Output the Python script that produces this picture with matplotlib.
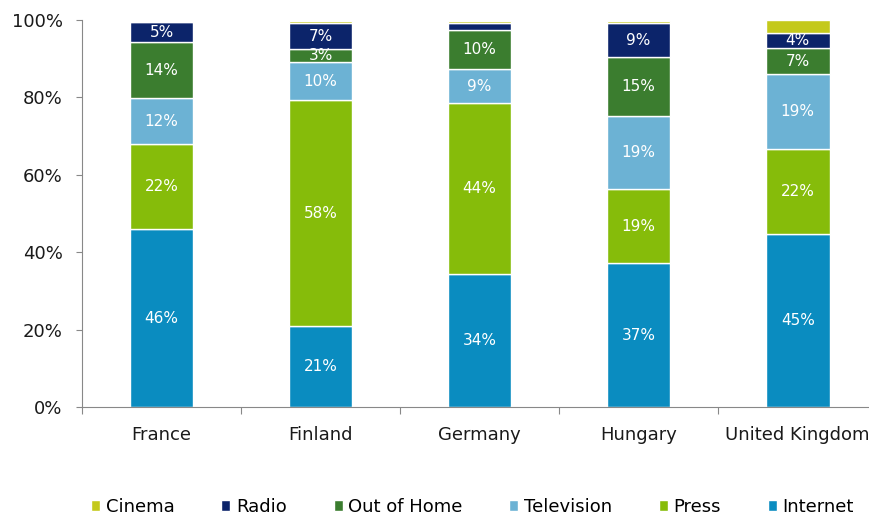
import matplotlib.pyplot as plt
import numpy as np

plt.rcParams['font.family'] = ['DejaVu Sans']

countries = ['France', 'Finland', 'Germany', 'Hungary', 'United Kingdom']

# shares in %, bottom to top
internet = [45.9, 20.9, 34.4, 37.1, 44.6]
press = [22.0, 58.4, 44.1, 19.2, 22.1]
television = [11.9, 9.8, 8.8, 18.9, 19.4]
out_of_home = [14.4, 3.3, 10.1, 15.3, 6.6]
radio = [5.2, 6.8, 1.7, 8.6, 4.0]
cinema = [0.0, 0.6, 0.6, 0.6, 3.2]

series_names = ['Internet', 'Press', 'Television', 'Out of Home', 'Radio', 'Cinema']
series_vals = [internet, press, television, out_of_home, radio, cinema]
colors = ['#0a8cc0', '#86bc0a', '#6cb2d4', '#3b7d2f', '#0c246a', '#c4c91c']

fig = plt.figure(figsize=(8.7, 5.21), dpi=100)
ax = fig.add_axes([0.0943, 0.2188, 0.914, 0.7428])

x = np.arange(len(countries))
bottom = np.zeros(len(countries))
handles = []
for name, vals, col in zip(series_names, series_vals, colors):
    vals = np.array(vals)
    bars = ax.bar(x, vals, 0.4, bottom=bottom, color=col, edgecolor='white',
                  linewidth=1, label=name)
    handles.append(bars)
    if name != 'Cinema':
        for xi, b, v in zip(x, bottom, vals):
            if v >= 2.5:
                ax.text(xi, b + v / 2, f'{v:.0f}%', ha='center', va='center',
                        color='white', fontsize=11)
    bottom += vals

ax.set_xlim(-0.5, 4.5)
ax.set_ylim(0, 100)
ax.set_yticks(range(0, 101, 20))
ax.set_yticklabels([f'{v}%' for v in range(0, 101, 20)], fontsize=13, color='#1a1a1a')
ax.set_xticks(np.arange(-0.5, 5, 1))
ax.set_xticklabels([])
ax.set_xticks(x, minor=True)
ax.set_xticklabels(countries, minor=True, fontsize=13, color='#1a1a1a')
ax.tick_params(axis='x', which='major', length=5, color='#888888', direction='out')
ax.tick_params(axis='x', which='minor', length=0, pad=14)
ax.tick_params(axis='y', length=4, color='#888888', pad=10)

for s in ['top', 'right']:
    ax.spines[s].set_visible(False)
for s in ['left', 'bottom']:
    ax.spines[s].set_color('#888888')

fig.legend(handles[::-1], series_names[::-1], loc='center', bbox_to_anchor=(0.543, 0.027),
           ncol=6, frameon=False, fontsize=13, handlelength=0.5, handleheight=0.5,
           handletextpad=0.3, columnspacing=2.6)

fig.savefig('out.png', dpi=100)
